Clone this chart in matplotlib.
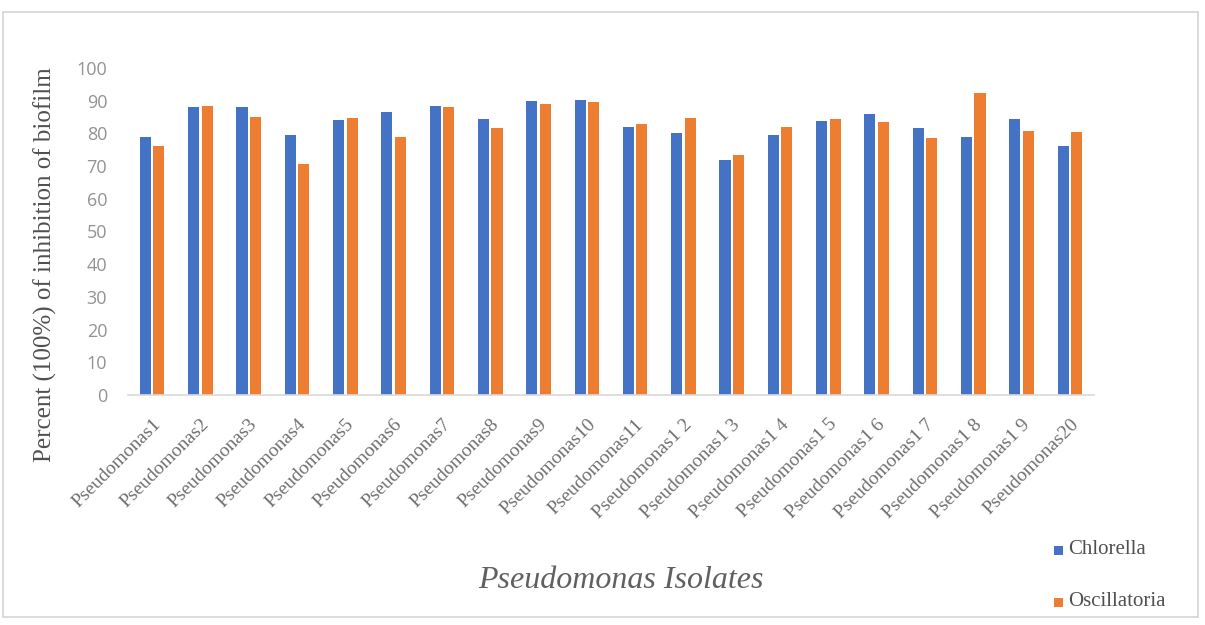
import matplotlib
matplotlib.use("Agg")
import matplotlib.pyplot as plt
import numpy as np
from matplotlib.patches import Rectangle

# Isolate names as printed on the category axis
isolates = [
    "Pseudomonas1", "Pseudomonas2", "Pseudomonas3", "Pseudomonas4", "Pseudomonas5",
    "Pseudomonas6", "Pseudomonas7", "Pseudomonas8", "Pseudomonas9", "Pseudomonas10",
    "Pseudomonas11", "Pseudomonas1 2", "Pseudomonas1 3", "Pseudomonas1 4", "Pseudomonas1 5",
    "Pseudomonas1 6", "Pseudomonas1 7", "Pseudomonas1 8", "Pseudomonas1 9", "Pseudomonas20",
]

# Percent inhibition of biofilm by each algal extract
chlorella = [79, 88, 88, 79.5, 84, 86.5, 88.5, 84.5, 90, 90.3,
             82, 80, 72, 79.5, 83.7, 86, 81.5, 79, 84.5, 76]
oscillatoria = [76, 88.5, 85, 70.5, 84.7, 79, 88, 81.7, 89, 89.7,
                83, 84.7, 73.5, 82, 84.5, 83.5, 78.5, 92.5, 80.7, 80.3]

y_ticks = [0, 10, 20, 30, 40, 50, 60, 70, 80, 90, 100]

BLUE = "#4472C4"
ORANGE = "#ED7D31"
SERIF = ["Liberation Serif", "DejaVu Serif"]

W, H = 1205, 625
fig = plt.figure(figsize=(W / 100, H / 100), dpi=100)
fig.patch.set_facecolor("white")

# light frame around the chart area
fig.patches.append(Rectangle((3 / W, 1 - 617 / H), (1198 - 3) / W, (617 - 12) / H,
                             transform=fig.transFigure, fill=False,
                             edgecolor="#d4d4d4", linewidth=1.2))

ax = fig.add_axes([128 / W, 1 - 395 / H, (1094 - 128) / W, (395 - 68) / H])

x = np.arange(len(isolates))
bw = 0.23
ax.bar(x - 0.14, chlorella, width=bw, color=BLUE, label="Chlorella")
ax.bar(x + 0.14, oscillatoria, width=bw, color=ORANGE, label="Oscillatoria")

ax.set_xlim(-0.5, len(isolates) - 0.5)
ax.set_ylim(0, 100)
ax.set_yticks(y_ticks)
ax.set_yticklabels([str(v) for v in y_ticks], fontfamily="Open Sans",
                   fontsize=13, color="#939393")
ax.tick_params(axis="y", length=0, pad=15)

ax.set_xticks(x)
ax.set_xticklabels(isolates, rotation=45, ha="right", va="top",
                   rotation_mode="anchor", fontfamily=SERIF, fontsize=14,
                   color="#707070")
ax.tick_params(axis="x", length=0, pad=15)

for side in ("top", "right", "left"):
    ax.spines[side].set_visible(False)
ax.spines["bottom"].set_color("#d9d9d9")
ax.spines["bottom"].set_linewidth(1.2)

fig.text(45 / W, 1 - 265 / H, "Percent (100%) of inhibition of biofilm",
         rotation=90, ha="center", va="center", fontfamily=SERIF,
         fontsize=18, color="#505050")

fig.text(621 / W, 1 - 580 / H, "Pseudomonas Isolates", ha="center", va="center",
         fontfamily=SERIF, fontstyle="italic", fontsize=23, color="#606060")

# legend entries stacked at the lower right
for yy, col, name in [(550, BLUE, "Chlorella"), (602, ORANGE, "Oscillatoria")]:
    fig.patches.append(Rectangle((1054 / W, 1 - (yy + 4.5) / H), 9 / W, 9 / H,
                                 transform=fig.transFigure, color=col, linewidth=0))
    fig.text(1068 / W, 1 - yy / H, name, ha="left", va="center",
             fontfamily=SERIF, fontsize=15, color="#505050")

fig.savefig("out.png", dpi=100, facecolor="white")
